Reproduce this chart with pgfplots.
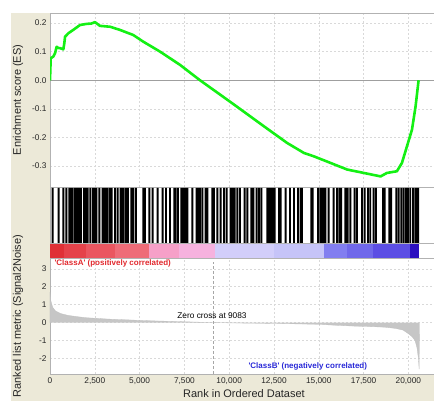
\documentclass[border=0pt]{standalone}
\usepackage{pgfplots}
\pgfplotsset{compat=1.18}
\usepackage{fontspec}
\setmainfont{Liberation Sans}[Ligatures=TeXOff]
\definecolor{beige}{RGB}{236,233,216}
\definecolor{esgreen}{RGB}{20,240,20}
\definecolor{classred}{RGB}{225,40,45}
\definecolor{classblue}{RGB}{40,40,215}
\definecolor{b1}{RGB}{224,48,54}
\definecolor{b2}{RGB}{229,66,74}
\definecolor{b3}{RGB}{234,86,96}
\definecolor{b4}{RGB}{238,108,120}
\definecolor{b5}{RGB}{246,160,200}
\definecolor{b6}{RGB}{246,178,222}
\definecolor{b7}{RGB}{210,206,250}
\definecolor{b8}{RGB}{198,196,248}
\definecolor{b9}{RGB}{130,126,240}
\definecolor{b10}{RGB}{112,104,234}
\definecolor{b11}{RGB}{92,78,228}
\definecolor{b12}{RGB}{44,16,192}

\pgfplotsset{gsea/.style={
  scale only axis, anchor=north west, width=384pt,
  xmin=0, xmax=21430,
  scaled x ticks=false, scaled y ticks=false,
  axis line style={gray!60},
  tick style={draw=none},
  major grid style={gray!30, dash pattern=on 2pt off 2pt},
  ticklabel style={font=\fontsize{8.3}{9}\selectfont, text=black!85},
  /pgf/number format/assume math mode=true,
  label style={font=\fontsize{11}{12}\selectfont, text=black!85},
}}

\begin{document}
\begin{tikzpicture}[x=1pt,y=1pt]
\useasboundingbox (0,0) rectangle (434,401);
\fill[beige] (11,0) rectangle (50,388);
\fill[beige] (11,0) rectangle (434,27);

% ---------- top panel: running enrichment score
\begin{axis}[gsea, at={(50pt,388pt)}, height=174pt,
  ymin=-0.373, ymax=0.235,
  xtick={0,2500,5000,7500,10000,12500,15000,17500,20000}, xticklabels={},
  ytick={-0.3,-0.2,-0.1,0,0.1,0.2},
  yticklabel style={/pgf/number format/fixed, /pgf/number format/fixed zerofill, /pgf/number format/precision=1},
  grid=major,
  ylabel={Enrichment score (ES)},
  ylabel style={at={(axis description cs:-0.083,0.5)}, anchor=center},
]
\addplot[gray!75, line width=0.7pt] coordinates {(0,0) (21430,0)};
\addplot[esgreen, line width=2.6pt, line join=round] coordinates {
(0,0) (40,0.077) (120,0.080) (185,0.083) (280,0.094) (370,0.117) (450,0.113)
(560,0.112) (745,0.108) (800,0.130) (840,0.152) (1020,0.164) (1300,0.176)
(1675,0.193) (2050,0.197) (2300,0.198) (2510,0.203) (2790,0.190) (3350,0.187)
(3900,0.176) (4650,0.158) (5200,0.135) (6140,0.100) (7250,0.054) (8370,0.000)
(9490,-0.050) (10270,-0.085) (11940,-0.161) (13230,-0.219) (14170,-0.254)
(14730,-0.266) (15660,-0.289) (16580,-0.312) (17520,-0.324) (18450,-0.336)
(18800,-0.324) (19360,-0.318) (19640,-0.289) (19920,-0.231) (20200,-0.173)
(20400,-0.092) (20570,0.000)
};
\end{axis}

% ---------- hit panel with colour band
\begin{axis}[gsea, at={(50pt,214pt)}, height=71pt,
  ymin=-0.27, ymax=1.018, xtick=\empty, ytick=\empty]
\addplot[fill=b1, draw=none] coordinates {(0,-0.27) (0,0) (800,0) (800,-0.27)};
\addplot[fill=b2, draw=none] coordinates {(800,-0.27) (800,0) (2000,0) (2000,-0.27)};
\addplot[fill=b3, draw=none] coordinates {(2000,-0.27) (2000,0) (3600,0) (3600,-0.27)};
\addplot[fill=b4, draw=none] coordinates {(3600,-0.27) (3600,0) (5500,0) (5500,-0.27)};
\addplot[fill=b5, draw=none] coordinates {(5500,-0.27) (5500,0) (7200,0) (7200,-0.27)};
\addplot[fill=b6, draw=none] coordinates {(7200,-0.27) (7200,0) (9200,0) (9200,-0.27)};
\addplot[fill=b7, draw=none] coordinates {(9200,-0.27) (9200,0) (12500,0) (12500,-0.27)};
\addplot[fill=b8, draw=none] coordinates {(12500,-0.27) (12500,0) (15300,0) (15300,-0.27)};
\addplot[fill=b9, draw=none] coordinates {(15300,-0.27) (15300,0) (16600,0) (16600,-0.27)};
\addplot[fill=b10, draw=none] coordinates {(16600,-0.27) (16600,0) (18000,0) (18000,-0.27)};
\addplot[fill=b11, draw=none] coordinates {(18000,-0.27) (18000,0) (20100,0) (20100,-0.27)};
\addplot[fill=b12, draw=none] coordinates {(20100,-0.27) (20100,0) (20620,0) (20620,-0.27)};
\addplot[ybar, bar width=1.9pt, bar shift=0pt, fill=black, draw=none] coordinates {
(149,1) (484,1) (744,1) (911,1) (1079,1) (1110,1) (1153,1) (1190,1) (1228,1) (1358,1)
(1400,1) (1451,1) (1500,1) (1544,1) (1590,1) (1637,1) (1730,1) (1897,1) (1972,1) (2102,1)
(2250,1) (2399,1) (2474,1) (2585,1) (2753,1) (2930,1) (2976,1) (3010,1) (3050,1) (3090,1)
(3125,1) (3218,1) (3348,1) (3441,1) (3627,1) (3776,1) (3943,1) (3999,1) (4111,1) (4241,1)
(4352,1) (4538,1) (4650,1) (4799,1) (5208,1) (5301,1) (5543,1) (5729,1) (6008,1) (6287,1)
(6473,1) (6696,1) (6938,1) (7012,1) (7142,1) (7328,1) (7440,1) (7570,1) (7663,1) (7942,1)
(8184,1) (8258,1) (8370,1) (8500,1) (8686,1) (8779,1) (9058,1) (9151,1) (9337,1) (9523,1)
(9709,1) (9858,1) (10081,1) (10193,1) (10304,1) (10453,1) (10602,1) (10863,1) (11011,1) (11234,1)
(11346,1) (11532,1) (11662,1) (11792,1) (12127,1) (12220,1) (12313,1) (12425,1) (12536,1) (12778,1)
(12871,1) (13150,1) (13392,1) (13615,1) (13838,1) (13987,1) (14062,1) (14582,1) (14657,1) (14954,1)
(15084,1) (15178,1) (15271,1) (15364,1) (15550,1) (15829,1) (16015,1) (16145,1) (16256,1) (16480,1)
(16610,1) (16759,1) (17001,1) (17131,1) (17410,1) (17559,1) (17744,1) (17874,1) (18061,1) (18191,1)
(18581,1) (18674,1) (18935,1) (19046,1) (19325,1) (19455,1) (19604,1) (19735,1) (19865,1) (19976,1)
(20107,1) (20255,1) (20385,1) (20440,1) (20497,1) (20550,1)
};
\addplot[gray!60, line width=0.5pt] coordinates {(0,0) (21430,0)};
\end{axis}

% ---------- ranked list metric
\begin{axis}[gsea, at={(50pt,143pt)}, height=116pt,
  ymin=-2.87, ymax=3.6,
  xtick={0,2500,5000,7500,10000,12500,15000,17500,20000},
  xticklabel style={/pgf/number format/1000 sep={,}},
  ytick={-2,-1,0,1,2,3},
  grid=major,
  xlabel={Rank in Ordered Dataset},
  xlabel style={at={(axis description cs:0.505,-0.17)}, anchor=center},
  ylabel={Ranked list metric (Signal2Noise)},
  ylabel style={at={(axis description cs:-0.083,0.5)}, anchor=center},
]
\addplot[fill=gray!45, draw=gray!50, line width=0.3pt] coordinates {
(0,0) (0,1.7) (50,1.2) (150,0.85) (300,0.65) (600,0.5) (1000,0.4) (1500,0.33)
(2000,0.27) (2800,0.22) (3500,0.18) (4350,0.15) (5000,0.12) (5900,0.09) (7000,0.06)
(8000,0.03) (9083,0) (10000,-0.02) (11000,-0.035) (12500,-0.05) (13500,-0.07)
(15000,-0.1) (15900,-0.15) (17000,-0.2) (18000,-0.23) (18700,-0.26) (19300,-0.33)
(19700,-0.42) (20000,-0.62) (20200,-0.78) (20370,-1.0) (20480,-1.4) (20560,-2.0)
(20600,-2.6) (20620,0)
};
\addplot[gray!70, dash pattern=on 3pt off 2pt, line width=0.5pt] coordinates {(9083,-2.87) (9083,3.4)};
\end{axis}

\node[anchor=west, text=classred, font=\bfseries\fontsize{8}{9}\selectfont] at (51,138) {'ClassA' (positively correlated)};
\node[anchor=west, text=classblue, font=\bfseries\fontsize{8}{9}\selectfont] at (245,35) {'ClassB' (negatively correlated)};
\node[anchor=center, text=black, font=\fontsize{8.3}{9}\selectfont] at (212,85) {Zero cross at 9083};
\end{tikzpicture}
\end{document}
